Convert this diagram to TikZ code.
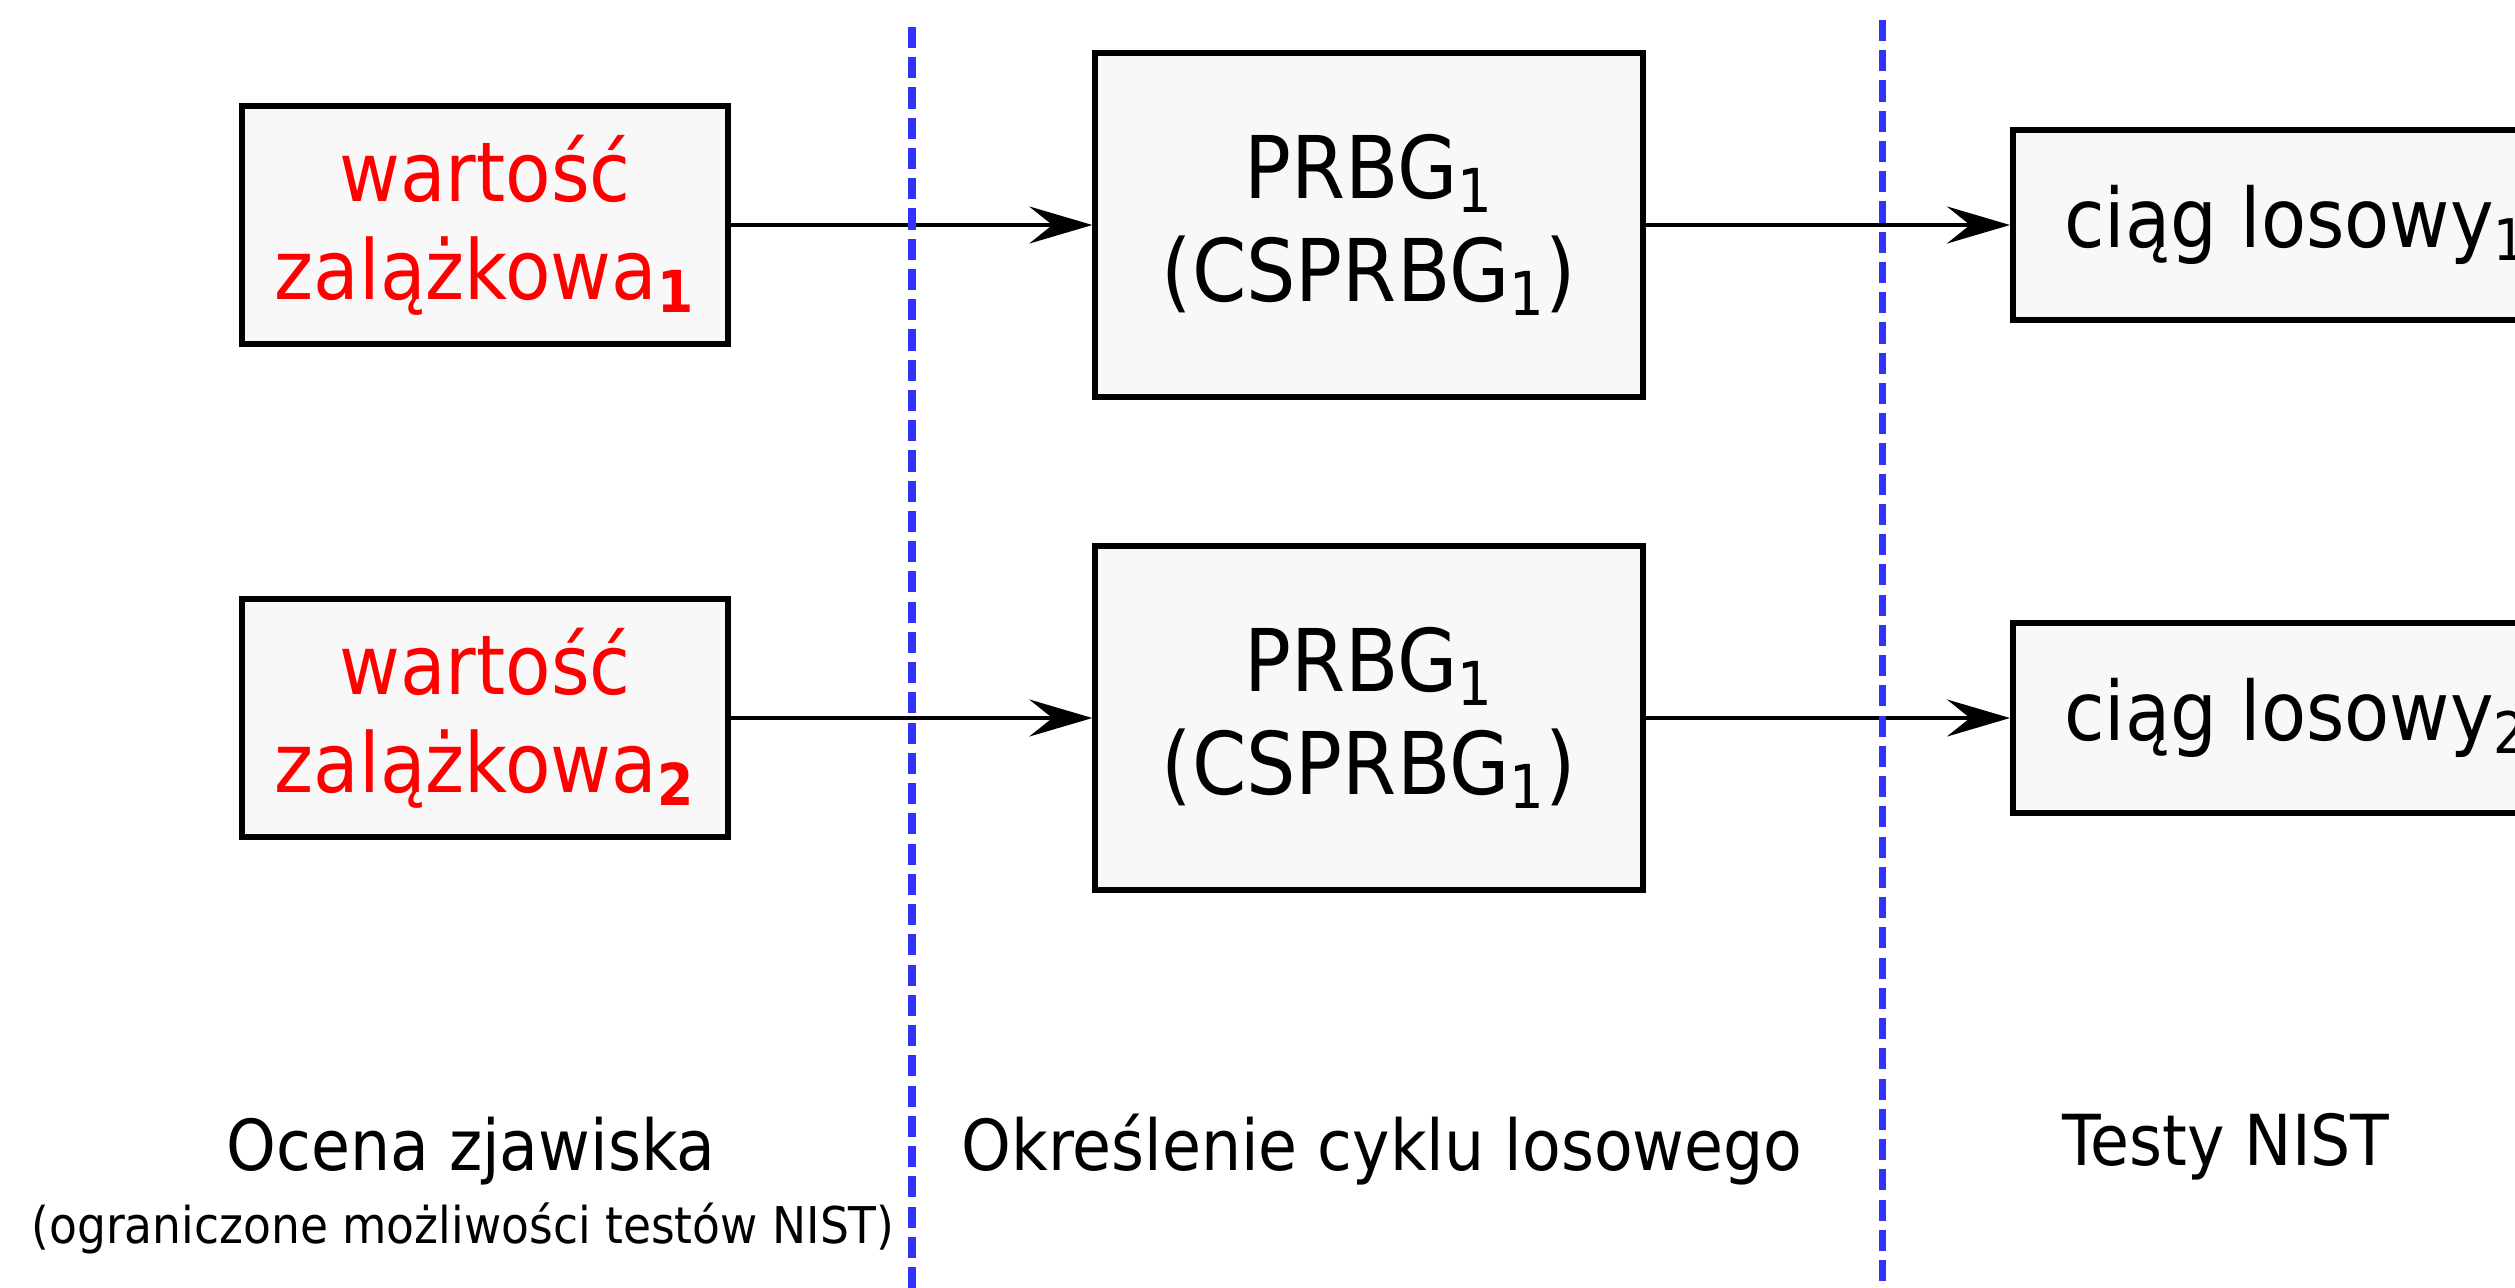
\documentclass[tikz,border=0pt]{standalone}
\usepackage{fontspec}
\setmainfont{DejaVu Sans}[FakeStretch=0.9]
\usetikzlibrary{arrows.meta}
\definecolor{boxfill}{RGB}{248,248,248}
\definecolor{sepblue}{RGB}{50,50,255}
\begin{document}
\begin{tikzpicture}[x=0.01cm,y=-0.01cm,
  box/.style={draw=black,line width=1.7pt,fill=boxfill,inner sep=0pt},
  seedbox/.style={box,minimum width=4.85cm,minimum height=2.37cm,align=center,
    text=red,font=\fontsize{23.5pt}{27.9pt}\selectfont},
  genbox/.style={box,minimum width=5.47cm,minimum height=3.43cm,align=center,
    font=\fontsize{24.6pt}{29.5pt}\selectfont},
  seqbox/.style={box,anchor=west,minimum height=1.9cm,inner xsep=0.51cm,
    font=\fontsize{23.3pt}{28pt}\selectfont},
  arr/.style={line width=1.1pt,-{Stealth[length=6.3mm,width=3.7mm,inset=2.3mm]}},
  sep/.style={draw=sepblue,line width=2pt,dash pattern=on 6pt off 2.6pt},
  lab/.style={anchor=base,font=\fontsize{20pt}{24pt}\selectfont},
  smalllab/.style={anchor=base,font=\fontsize{14.4pt}{17pt}\selectfont}]
\useasboundingbox (0,0) rectangle (2515,1287);
\clip (0,0) rectangle (2515,1287);
% row 1
\node[seedbox] (s1) at (485,225) {wartość\\zalążkowa\textsubscript{\textbf{1}}};
\node[genbox] (p1) at (1369,225) {PRBG\textsubscript{1}\\(CSPRBG\textsubscript{1})};
\node[seqbox] (c1) at (2010,225) {ciąg losowy\textsubscript{1}};
% row 2
\node[seedbox] (s2) at (485,718) {wartość\\zalążkowa\textsubscript{\textbf{2}}};
\node[genbox] (p2) at (1369,718) {PRBG\textsubscript{1}\\(CSPRBG\textsubscript{1})};
\node[seqbox] (c2) at (2010,718) {ciąg losowy\textsubscript{2}};
% connectors
\draw[arr] (s1) -- (p1);
\draw[arr] (p1) -- (c1);
\draw[arr] (s2) -- (p2);
\draw[arr] (p2) -- (c2);
% separators
\coordinate (d1t) at (912,27);
\coordinate (d1b) at (912,1300);
\coordinate (d2t) at (1882,20);
\coordinate (d2b) at (1882,1300);
\draw[sep] (d1t) -- (d1b);
\draw[sep] (d2t) -- (d2b);
% labels
\node[lab] (l1) at (471,1170) {Ocena zjawiska};
\node[smalllab] (l1b) at (463,1243) {(ograniczone możliwości testów NIST)};
\node[lab] (l2) at (1382,1170) {Określenie cyklu losowego};
\node[lab] (l3) at (2226,1165) {Testy NIST};
\end{tikzpicture}
\end{document}
